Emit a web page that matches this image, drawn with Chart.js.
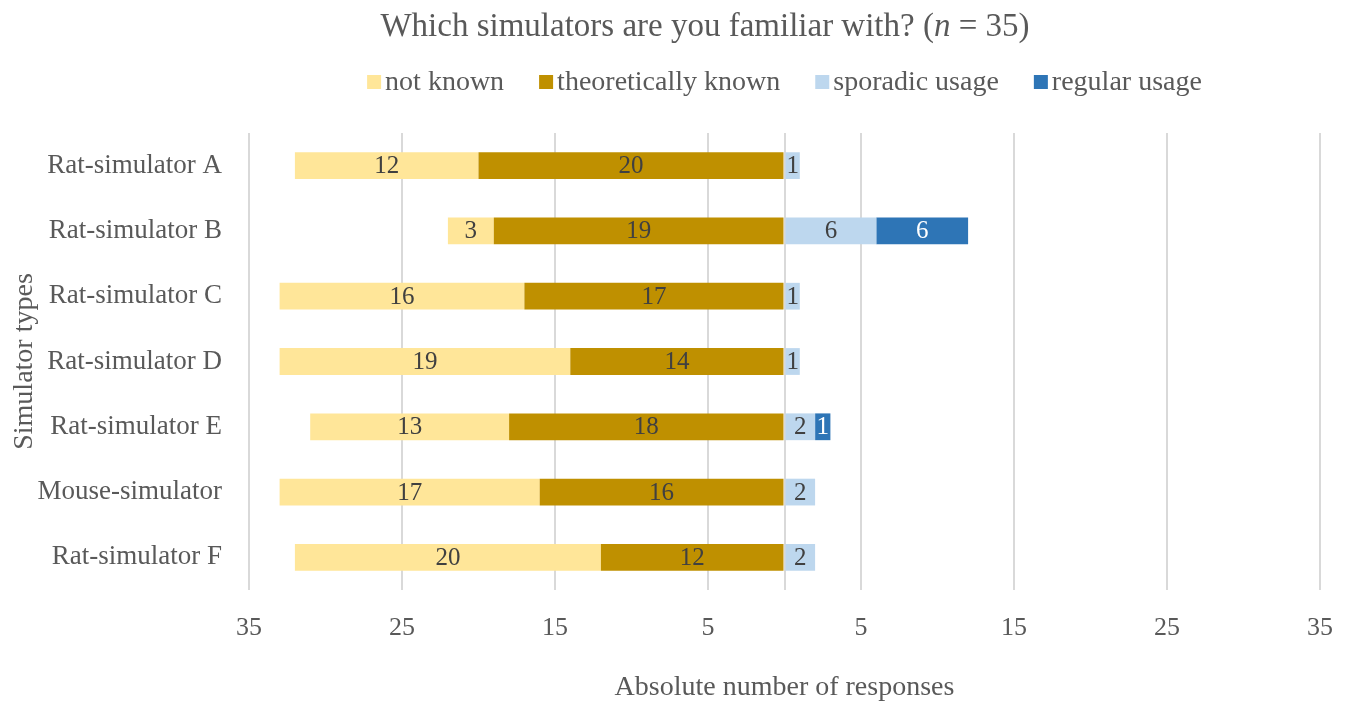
<!DOCTYPE html>
<html>
<head>
<meta charset="utf-8">
<script src="https://cdn.jsdelivr.net/npm/chart.js@4"></script>
<style>
    body { margin: 0; background: #fff; }
    #wrap { position: relative; width: 1348px; height: 702px; }
    #title {
        position: absolute; left: 62px; top: 7px; width: 1286px; text-align: center;
        font-family: "Liberation Serif", serif; font-size: 33px; color: #595959;
    }
</style>
</head>
<body>
<div id="wrap">
    <canvas id="simChart" width="1348" height="702"></canvas>
    <div id="title">Which simulators are you familiar with? (<i>n</i> = 35)</div>
</div>
<script>
// data
const simulators = ['Rat-simulator A', 'Rat-simulator B', 'Rat-simulator C', 'Rat-simulator D', 'Rat-simulator E', 'Mouse-simulator', 'Rat-simulator F'];
const notKnown = [12, 3, 16, 19, 13, 17, 20];
const theoreticallyKnown = [20, 19, 17, 14, 18, 16, 12];
const sporadicUsage = [1, 6, 1, 1, 2, 2, 2];
const regularUsage = [0, 6, 0, 0, 1, 0, 0];
const tickValues = [-35, -25, -15, -5, 0, 5, 15, 25, 35];
const legendOrder = ['not known', 'theoretically known', 'sporadic usage', 'regular usage'];

const FONT = '"Liberation Serif", serif';
const TEXT = '#595959';

// writes the count in the middle of each segment
const barLabels = {
    id: 'barLabels',
    afterDatasetsDraw(chart) {
        const ctx = chart.ctx;
        ctx.save();
        ctx.font = '25px ' + FONT;
        ctx.textAlign = 'center';
        ctx.textBaseline = 'middle';
        chart.data.datasets.forEach((ds, i) => {
            const meta = chart.getDatasetMeta(i);
            meta.data.forEach((bar, j) => {
                const v = Math.abs(ds.data[j]);
                if (!v) return;
                ctx.fillStyle = ds.labelColor;
                ctx.fillText(v, (bar.x + bar.base) / 2, bar.y + 1);
            });
        });
        ctx.restore();
    }
};

// legend like the excel one: small square, tight gap, centred over the plot
const topLegend = {
    id: 'topLegend',
    afterDraw(chart) {
        const ctx = chart.ctx;
        const box = 14, gap = 4, spacing = 35, y = 82;
        ctx.save();
        ctx.font = '28px ' + FONT;
        ctx.textBaseline = 'middle';
        const items = legendOrder.map(name => chart.data.datasets.find(d => d.label === name));
        const widths = items.map(d => box + gap + ctx.measureText(d.label).width);
        const total = widths.reduce((a, b) => a + b, 0) + spacing * (items.length - 1);
        const area = chart.chartArea;
        let x = (area.left + area.right) / 2 - total / 2;
        items.forEach((d, i) => {
            ctx.fillStyle = d.backgroundColor;
            ctx.fillRect(x, y - box / 2, box, box);
            ctx.fillStyle = TEXT;
            ctx.fillText(d.label, x + box + gap, y + 1);
            x += widths[i] + spacing;
        });
        ctx.restore();
    }
};

const ctx = document.getElementById('simChart').getContext('2d');
new Chart(ctx, {
    type: 'bar',
    data: {
        labels: simulators,
        datasets: [
            { label: 'theoretically known', data: theoreticallyKnown.map(v => -v), backgroundColor: '#BF9000', labelColor: '#404040' },
            { label: 'not known', data: notKnown.map(v => -v), backgroundColor: '#FFE699', labelColor: '#404040' },
            { label: 'sporadic usage', data: sporadicUsage, backgroundColor: '#BDD7EE', labelColor: '#404040' },
            { label: 'regular usage', data: regularUsage, backgroundColor: '#2E75B6', labelColor: '#ffffff' }
        ]
    },
    options: {
        indexAxis: 'y',
        responsive: false,
        animation: false,
        layout: { padding: { top: 133, right: 28, left: 0, bottom: 0 } },
        datasets: { bar: { barPercentage: 0.41, categoryPercentage: 1 } },
        plugins: {
            legend: { display: false },
            tooltip: { enabled: false }
        },
        scales: {
            x: {
                stacked: true,
                min: -35,
                max: 35,
                afterBuildTicks: scale => { scale.ticks = tickValues.map(v => ({ value: v })); },
                afterFit: scale => {
                    scale.height = 112;
                    scale.paddingLeft = 0;
                    scale.paddingRight = 0;
                },
                grid: { color: '#D9D9D9', lineWidth: 2, drawTicks: false },
                border: { display: false },
                ticks: {
                    font: { family: FONT, size: 26 },
                    color: TEXT,
                    padding: 23,
                    callback: v => v === 0 ? '' : Math.abs(v)
                },
                title: {
                    display: true,
                    text: 'Absolute number of responses',
                    font: { family: FONT, size: 28, lineHeight: 1 },
                    color: TEXT,
                    padding: 0
                }
            },
            y: {
                stacked: true,
                afterFit: scale => { scale.width = 249; },
                grid: { display: false, drawTicks: false },
                border: { display: false },
                ticks: {
                    font: { family: FONT, size: 27 },
                    color: TEXT,
                    padding: 27
                },
                title: {
                    display: true,
                    text: 'Simulator types',
                    font: { family: FONT, size: 28 },
                    color: TEXT,
                    padding: 8
                }
            }
        }
    },
    plugins: [barLabels, topLegend]
});
</script>
</body>
</html>
